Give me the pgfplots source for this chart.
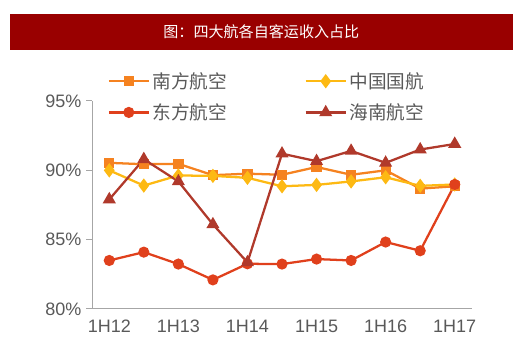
\documentclass[border=0pt]{standalone}
\usepackage{fontspec}
\setmainfont{Liberation Sans}
\newfontfamily\cjk{Noto Sans CJK SC}
\usepackage{pgfplots}
\pgfplotsset{compat=1.18}
\definecolor{csa}{HTML}{F58220}
\definecolor{cca}{HTML}{FDB913}
\definecolor{cea}{HTML}{E0401C}
\definecolor{hna}{HTML}{B0392B}
\definecolor{titlered}{HTML}{990000}
\definecolor{txtgray}{HTML}{595959}
\definecolor{axgray}{HTML}{A6A6A6}
\begin{document}
\begin{tikzpicture}
\path[use as bounding box] (0,0) rectangle (390pt,267pt);
\fill[titlered] (7.5pt,229.5pt) rectangle (384.75pt,256.5pt);
\node[text=white, font=\cjk\fontsize{11.3}{13}\selectfont] at (196pt,243pt) {图：四大航各自客运收入占比};
\begin{axis}[at={(69pt,35.25pt)}, anchor=south west, scale only axis,
  width=285pt, height=156pt,
  xmin=-0.5, xmax=10.5, ymin=80, ymax=95,
  axis x line*=bottom, axis y line*=left,
  axis line style={axgray, line width=0.75pt},
  xtick={0,2,...,10}, xticklabels={1H12,1H13,1H14,1H15,1H16,1H17},
  ytick={80,85,90,95}, yticklabels={80\%,85\%,90\%,95\%},
  tick label style={font=\fontsize{13.5}{15}\selectfont, text=txtgray},
  x tick style={draw=none},
  y tick style={axgray, line width=0.75pt},
  tick align=outside, major tick length=4.5pt,
  clip=false,
  legend columns=2,
  legend cell align=left,
  legend style={draw=none, fill=none, at={(rel axis cs:0.03,1.165)}, anchor=north west,
    font=\cjk\fontsize{14}{16}\selectfont, text=txtgray,
    /tikz/every even column/.append style={column sep=56pt},
    row sep=6pt},
  legend image code/.code={\draw[mark repeat=2,mark phase=2] plot coordinates {(0pt,0pt)(15pt,0pt)(30pt,0pt)};},
  every axis plot/.append style={line width=1.7pt, mark size=3pt},
]
\addplot[csa, mark=square*, mark options={csa}] coordinates {
(0,90.54)(1,90.44)(2,90.47)(3,89.65)(4,89.76)(5,89.68)(6,90.24)(7,89.68)(8,90.0)(9,88.68)(10,88.85)};
\addlegendentry{南方航空}
\addplot[cca, mark=diamond*, mark size=4pt, mark options={cca}] coordinates {
(0,90.0)(1,88.9)(2,89.63)(3,89.6)(4,89.46)(5,88.85)(6,88.95)(7,89.2)(8,89.5)(9,88.88)(10,88.98)};
\addlegendentry{中国国航}
\addplot[cea, mark=*, mark size=3.3pt, mark options={cea}] coordinates {
(0,83.5)(1,84.1)(2,83.24)(3,82.1)(4,83.26)(5,83.24)(6,83.6)(7,83.5)(8,84.83)(9,84.2)(10,88.98)};
\addlegendentry{东方航空}
\addplot[hna, mark=triangle*, mark size=4pt, mark options={hna}] coordinates {
(0,87.9)(1,90.8)(2,89.2)(3,86.1)(4,83.36)(5,91.2)(6,90.66)(7,91.4)(8,90.54)(9,91.5)(10,91.9)};
\addlegendentry{海南航空}
\end{axis}
\end{tikzpicture}
\end{document}
